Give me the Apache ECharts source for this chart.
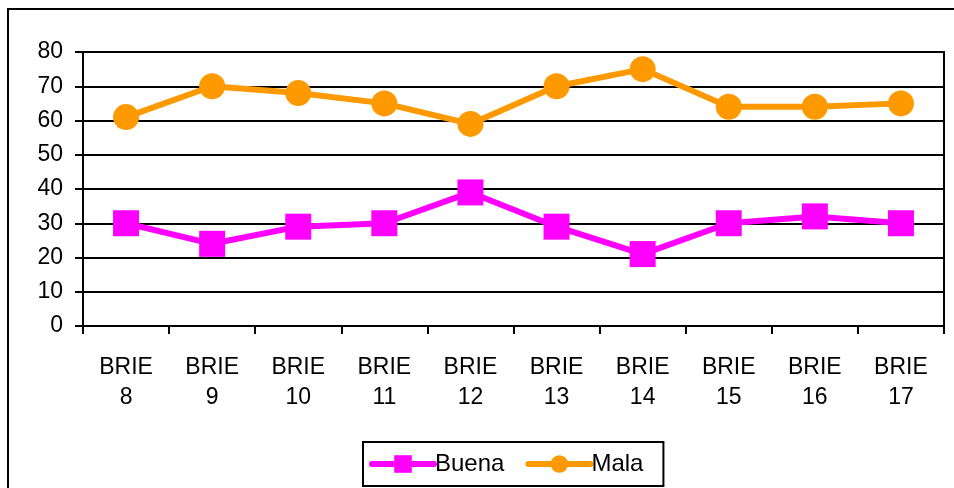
<!DOCTYPE html>
<html>
<head>
<meta charset="utf-8">
<script src="https://cdn.jsdelivr.net/npm/echarts@6/dist/echarts.min.js"></script>
<style>
  html, body { margin: 0; padding: 0; background: #fff; }
  #main { width: 954px; height: 488px; }
</style>
</head>
<body>
<div id="main"></div>
<script>
var categories = ['BRIE\n8', 'BRIE\n9', 'BRIE\n10', 'BRIE\n11', 'BRIE\n12', 'BRIE\n13', 'BRIE\n14', 'BRIE\n15', 'BRIE\n16', 'BRIE\n17'];
var buena = [30, 24, 29, 30, 39, 29, 21, 30, 32, 30];
var mala = [61, 70, 68, 65, 59, 70, 75, 64, 64, 65];

var chart = echarts.init(document.getElementById('main'));
var font = '"Liberation Sans", Arial, sans-serif';

var option = {
    animation: false,
    textStyle: { fontFamily: font },
    graphic: [
        {
            type: 'rect',
            shape: { x: 8, y: 9, width: 1000, height: 600 },
            style: { fill: 'none', stroke: '#000', lineWidth: 2 },
            silent: true
        }
    ],
    grid: {
        left: 83,
        right: 10,
        top: 52,
        bottom: 162,
        show: true,
        borderColor: '#000',
        borderWidth: 2
    },
    legend: {
        left: 363,
        top: 442,
        itemWidth: 62,
        itemHeight: 22,
        itemGap: 21,
        padding: [10, 20, 10, 6],
        borderColor: '#000',
        borderWidth: 2,
        lineStyle: { width: 6, cap: 'round' },
        textStyle: { fontSize: 24, color: '#000', fontFamily: font, padding: [0, 0, 0, -4] },
        data: ['Buena', 'Mala']
    },
    xAxis: {
        type: 'category',
        data: categories,
        boundaryGap: true,
        axisLine: { lineStyle: { color: '#000', width: 2 } },
        axisTick: { show: true, length: 8, lineStyle: { color: '#000', width: 2 } },
        axisLabel: { color: '#000', fontSize: 23, lineHeight: 30, margin: 27, interval: 0, fontFamily: font }
    },
    yAxis: {
        type: 'value',
        min: 0,
        max: 80,
        interval: 10,
        axisLine: { show: true, lineStyle: { color: '#000', width: 2 } },
        axisTick: { show: true, length: 8, lineStyle: { color: '#000', width: 2 } },
        axisLabel: { color: '#000', fontSize: 23, margin: 20, fontFamily: font },
        splitLine: { show: true, lineStyle: { color: '#000', width: 2 } }
    },
    series: [
        {
            name: 'Buena',
            type: 'line',
            data: buena,
            symbol: 'rect',
            symbolSize: 26,
            lineStyle: { color: '#ff00ff', width: 6 },
            itemStyle: { color: '#ff00ff' }
        },
        {
            name: 'Mala',
            type: 'line',
            data: mala,
            symbol: 'circle',
            symbolSize: 26,
            lineStyle: { color: '#ff9900', width: 6 },
            itemStyle: { color: '#ff9900' }
        }
    ]
};

chart.setOption(option);
</script>
</body>
</html>
